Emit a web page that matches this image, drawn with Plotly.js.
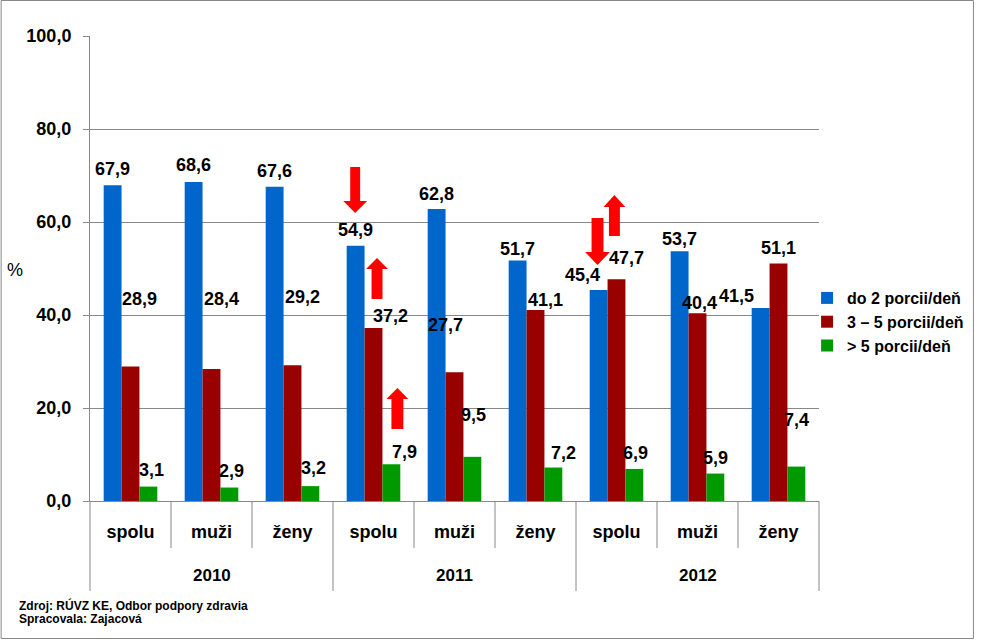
<!DOCTYPE html>
<html>
<head>
<meta charset="utf-8">
<script src="https://cdn.plot.ly/plotly-3.0.1.min.js"></script>
<style>
  html, body { margin: 0; padding: 0; background: #fff; }
  #chart { width: 981px; height: 640px; }
</style>
</head>
<body>
<div id="chart"></div>
<script>
// ---- data ----
const categories = ['spolu', 'muži', 'ženy', 'spolu', 'muži', 'ženy', 'spolu', 'muži', 'ženy'];
const years = ['2010', '2011', '2012'];
const seriesNames = ['do 2 porcii/deň', '3 – 5 porcii/deň', '> 5 porcii/deň'];
const do2 = [67.9, 68.6, 67.6, 54.9, 62.8, 51.7, 45.4, 53.7, 41.5];
const p3to5 = [28.9, 28.4, 29.2, 37.2, 27.7, 41.1, 47.7, 40.4, 51.1];
const over5 = [3.1, 2.9, 3.2, 7.9, 9.5, 7.2, 6.9, 5.9, 7.4];
const sourceLines = ['Zdroj: RÚVZ KE, Odbor podpory zdravia', 'Spracovala: Zajacová'];

// ---- styles / positions ----
const colors = ['#0066CC', '#990000', '#009900'];
const FONT = 'Liberation Sans, Arial, sans-serif';
// pixel shifts of the data labels (dx, dy) relative to bar top centre
const labelShift = [
  [[0,-16],[0,-17],[0,-16],[0,-16],[0,-15],[0,-12],[-16,-15],[0,-12],[-24,-12]],
  [[9,-68],[10,-70],[10,-68],[17,-12],[-9,-47],[10,-10],[10,-21],[2,-10],[0,-15]],
  [[3,-17],[2,-17],[3,-18],[13,-12],[1,-42],[10,-15],[1,-16],[0,-16],[0,-47]]
];
const L = 90, R = 824, T = 36, B = 501, W = 981, H = 640;
const nCat = categories.length;
const pxPerX = (R - L) / nCat, pxPerY = (B - T) / 100;
const px2x = px => (px - L) / pxPerX - 0.5;
const py2y = py => (B - py) / pxPerY;
const px2paper = px => (px - L) / (R - L);
const py2paper = py => (B - py) / (B - T);

const xIdx = categories.map((_, i) => i);
const allSeries = [do2, p3to5, over5];
const bargap = 0.338;
const barW = (1 - bargap) / 3;

const traces = allSeries.map((vals, s) => ({
  type: 'bar',
  name: seriesNames[s],
  x: xIdx,
  y: vals,
  marker: { color: colors[s], line: { width: 0 } },
  hoverinfo: 'skip'
}));

const annotations = [];
// data labels
allSeries.forEach((vals, s) => {
  vals.forEach((v, i) => {
    annotations.push({
      x: i + (s - 1) * barW, y: v, xref: 'x', yref: 'y',
      text: v.toFixed(1).replace('.', ','),
      showarrow: false, xanchor: 'center', yanchor: 'middle',
      xshift: labelShift[s][i][0], yshift: -labelShift[s][i][1],
      font: { family: FONT, size: 18, color: '#000', weight: 700 }
    });
  });
});
// year labels
years.forEach((yr, k) => {
  annotations.push({
    x: k * 3 + 1, xref: 'x', y: py2paper(575), yref: 'paper',
    text: yr, showarrow: false, xanchor: 'center', yanchor: 'middle',
    font: { family: FONT, size: 17, color: '#000', weight: 700 }
  });
});
// % label
annotations.push({
  x: px2paper(14), y: py2paper(270), xref: 'paper', yref: 'paper',
  text: '%', showarrow: false, xanchor: 'center', yanchor: 'middle',
  font: { family: FONT, size: 18, color: '#000' }
});
// source
sourceLines.forEach((line, k) => {
  annotations.push({
    x: px2paper(17), y: py2paper(605 + k * 14), xref: 'paper', yref: 'paper',
    text: line, showarrow: false, xanchor: 'left', yanchor: 'middle', align: 'left',
    font: { family: FONT, size: 12, color: '#000', weight: 700 }
  });
});

const shapes = [];
// category dividers
for (let k = 0; k <= nCat; k++) {
  const isYear = (k % 3 === 0);
  shapes.push({
    type: 'line', xref: 'paper', yref: 'paper',
    x0: k / nCat, x1: k / nCat, y0: 0, y1: py2paper(isYear ? 591 : 548),
    line: { color: '#888888', width: 1 }
  });
}
// outer frame
shapes.push({
  type: 'rect', xref: 'paper', yref: 'paper',
  x0: px2paper(0.5), x1: px2paper(979.5), y0: py2paper(0.5), y1: py2paper(638.5),
  line: { color: '#888888', width: 1 }, fillcolor: 'rgba(0,0,0,0)'
});
// red arrows: [centre x, tail y, tip y, shaft width, head width, head length] in px
const arrows = [
  [357, 167, 213, 10, 24, 12],
  [379, 299, 258, 11, 22, 11],
  [399.5, 429, 388, 12, 22, 11],
  [601, 218, 265, 12, 25, 13],
  [618, 236, 195, 11, 22, 12]
];
arrows.forEach(([cx, ty, tipY, sw, hw, hl]) => {
  const dir = tipY > ty ? 1 : -1;
  const baseY = tipY - dir * hl;
  const pts = [
    [cx - sw / 2, ty], [cx + sw / 2, ty], [cx + sw / 2, baseY], [cx + hw / 2, baseY],
    [cx, tipY], [cx - hw / 2, baseY], [cx - sw / 2, baseY]
  ];
  const path = 'M' + pts.map(p => px2x(p[0]).toFixed(4) + ',' + py2y(p[1]).toFixed(4)).join('L') + 'Z';
  shapes.push({
    type: 'path', xref: 'x', yref: 'y', path: path,
    fillcolor: '#FF0000', line: { width: 0 }
  });
});

const layout = {
  width: W, height: H,
  margin: { l: L, r: W - R, t: T, b: H - B, pad: 0 },
  paper_bgcolor: '#ffffff', plot_bgcolor: '#ffffff',
  font: { family: FONT, color: '#000' },
  separators: ',.',
  barmode: 'group', bargap: bargap, bargroupgap: 0,
  showlegend: true,
  legend: {
    x: px2paper(812), y: py2paper(281), xanchor: 'left', yanchor: 'top',
    font: { family: FONT, size: 16, color: '#000', weight: 700 },
    bgcolor: 'rgba(0,0,0,0)', borderwidth: 0, traceorder: 'normal'
  },
  xaxis: {
    type: 'linear', range: [-0.5, nCat - 0.5], fixedrange: true,
    tickmode: 'array', tickvals: xIdx, ticktext: categories,
    ticks: '', ticklabelstandoff: 14,
    tickfont: { family: FONT, size: 18, color: '#000', weight: 700 },
    showgrid: false, zeroline: false,
    showline: true, linecolor: '#888888', linewidth: 1
  },
  yaxis: {
    range: [0, 100], dtick: 20, tick0: 0, tickformat: '.1f', fixedrange: true,
    ticks: 'outside', ticklen: 6, tickcolor: '#888888', ticklabelstandoff: 8,
    tickfont: { family: FONT, size: 18, color: '#000', weight: 700 },
    showgrid: true, gridcolor: '#888888', gridwidth: 1,
    zeroline: false, showline: true, linecolor: '#888888', linewidth: 1
  },
  annotations: annotations,
  shapes: shapes
};

Plotly.newPlot('chart', traces, layout, { staticPlot: true, displayModeBar: false });
</script>
</body>
</html>
